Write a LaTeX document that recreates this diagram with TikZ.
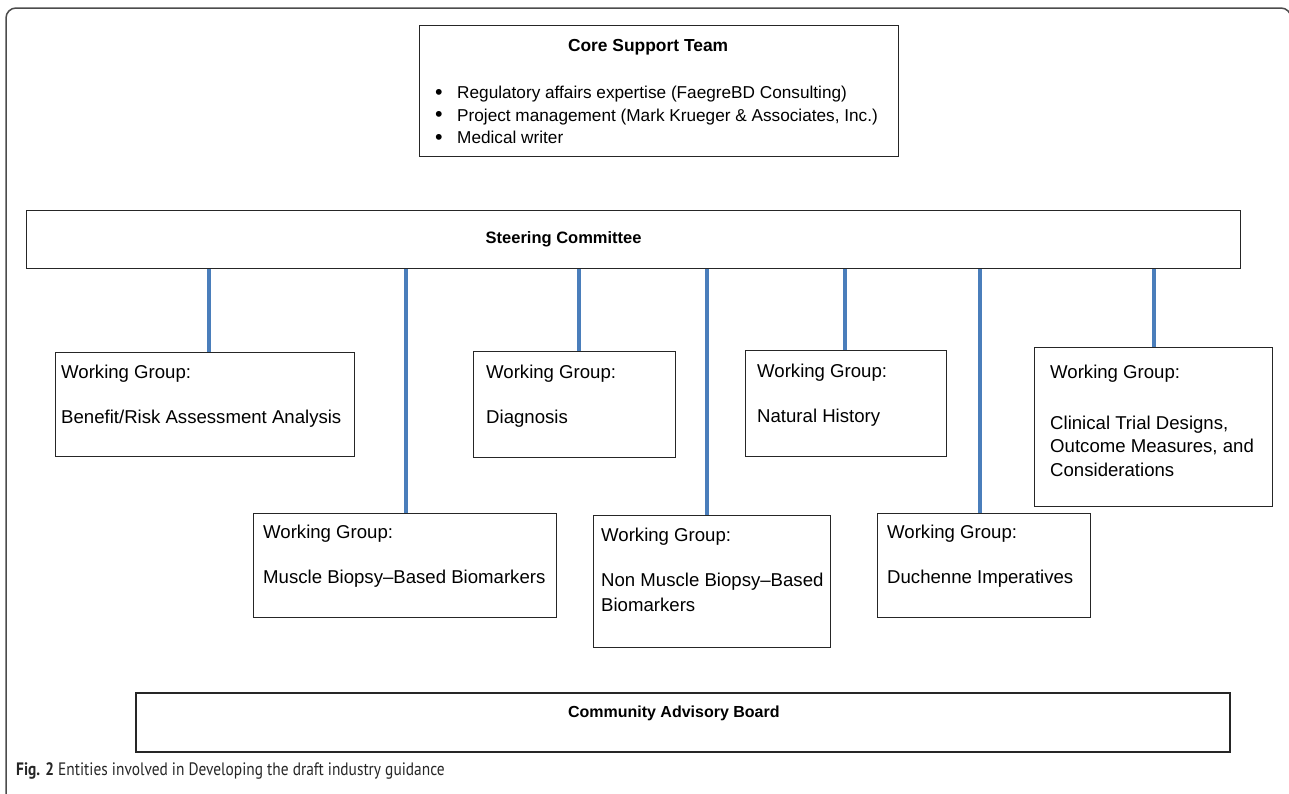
\documentclass[tikz,border=0pt]{standalone}
\usepackage{fontspec}
\setmainfont{Liberation Sans}
\newfontfamily\capfont{PT Sans}
\usetikzlibrary{positioning}

\definecolor{linkblue}{RGB}{74,126,187}

\tikzset{
  box/.style={draw=black!85, line width=1.2pt, anchor=north west, inner sep=0pt},
  wgtext/.style={align=left, inner sep=0pt, font=\fontsize{18.6}{25}\selectfont},
  title/.style={inner sep=0pt, font=\fontsize{16.5}{20}\selectfont\bfseries},
  link/.style={draw=linkblue, line width=4pt},
}
\newcommand{\dotitem}{\makebox[22pt][l]{\raisebox{-0.5pt}{\scalebox{1.25}{\textbullet}}}}

\begin{document}
\begin{tikzpicture}[x=1pt,y=-1pt]
  \useasboundingbox (0,0) rectangle (1289,793);

  % frame round the figure
  \draw[black!70, line width=1.5pt, rounded corners=10pt] (6,800) -- (6,8) -- (1291,8) -- (1291,800);

  % core support team
  \node[box, minimum width=479pt, minimum height=131pt] (core) at (419,25) {};
  \node[title, font=\fontsize{17.4}{20}\selectfont\bfseries, below=14pt of core.north, xshift=-11pt] (coretitle)
    {Core Support Team};
  \node[below right=61pt and 16pt of core.north west, align=left, inner sep=0pt,
        font=\fontsize{17.2}{22.5}\selectfont] (corelist)
    {\dotitem Regulatory affairs expertise (FaegreBD Consulting)\\
     \dotitem Project management (Mark Krueger \& Associates, Inc.)\\
     \dotitem Medical writer};

  % steering committee
  \node[box, minimum width=1214pt, minimum height=58pt] (steer) at (26,210) {};
  \node[title] (steertitle) at ([xshift=-70pt]steer.center) {Steering Committee};

  % working groups
  \node[box, minimum width=299pt, minimum height=104pt] (wa) at (55,352) {};
  \node[wgtext, below right=13pt and 6pt of wa.north west] (watext)
    {Working Group:\\[20pt]Benefit/Risk Assessment Analysis};

  \node[box, minimum width=303pt, minimum height=104pt] (wb) at (253,513) {};
  \node[wgtext, below right=12pt and 10pt of wb.north west] (wbtext)
    {Working Group:\\[20pt]Muscle Biopsy--Based Biomarkers};

  \node[box, minimum width=202pt, minimum height=106pt] (wc) at (473,351) {};
  \node[wgtext, below right=14pt and 13pt of wc.north west] (wctext)
    {Working Group:\\[20pt]Diagnosis};

  \node[box, minimum width=237pt, minimum height=132pt] (wd) at (593,515) {};
  \node[wgtext, below right=13pt and 8pt of wd.north west] (wdtext)
    {Working Group:\\[20pt]Non Muscle Biopsy--Based\\Biomarkers};

  \node[box, minimum width=201pt, minimum height=106pt] (we) at (745,350) {};
  \node[wgtext, below right=14pt and 12pt of we.north west] (wetext)
    {Working Group:\\[20pt]Natural History};

  \node[box, minimum width=213pt, minimum height=104pt] (wf) at (877,513) {};
  \node[wgtext, below right=12pt and 10pt of wf.north west] (wftext)
    {Working Group:\\[20pt]Duchenne Imperatives};

  \node[box, minimum width=238pt, minimum height=159pt] (wg) at (1034,347) {};
  \node[wgtext, below right=18pt and 16pt of wg.north west,
        font=\fontsize{18.6}{23.5}\selectfont] (wgtext)
    {Working Group:\\[27pt]Clinical Trial Designs,\\Outcome Measures, and\\Considerations};

  \foreach \n/\x in {wa/209, wb/406, wc/579, wd/707, we/845, wf/980, wg/1154}
    \draw[link] (steer.south -| \x,0) -- (\n.north -| \x,0);

  % community advisory board
  \node[box, line width=1.6pt, minimum width=1094pt, minimum height=59pt] (cab) at (135,692) {};
  \node[title, font=\fontsize{16}{20}\selectfont\bfseries] (cabtitle) at ([xshift=-9pt,yshift=9pt]cab.center)
    {Community Advisory Board};

  % caption
  \node[anchor=west, inner sep=0pt, text=black!85, font=\capfont\fontsize{18}{20}\selectfont] (caption)
    at (16,771) {\scalebox{0.855}[1]{\textbf{Fig. 2} Entities involved in Developing the draft industry guidance}};

\end{tikzpicture}
\end{document}
